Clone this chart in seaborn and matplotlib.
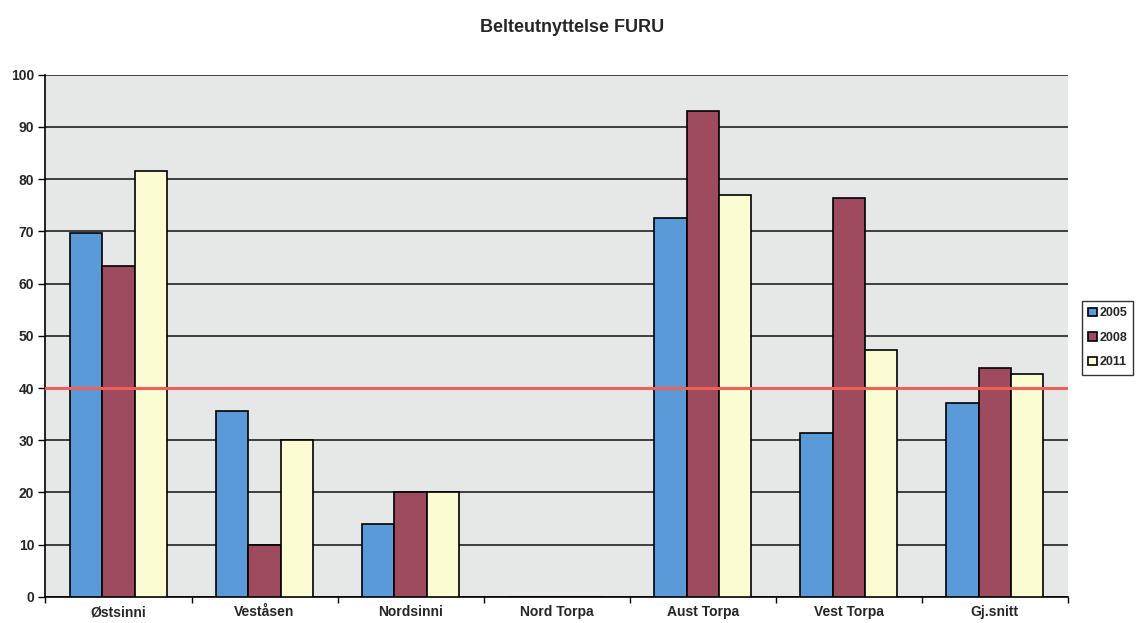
import seaborn as sns
import pandas as pd
import numpy as np
import matplotlib.pyplot as plt

omraader = ["Østsinni", "Veståsen", "Nordsinni", "Nord Torpa", "Aust Torpa", "Vest Torpa", "Gj.snitt"]
aar = ["2005", "2008", "2011"]
v2005 = [69.6, 35.5, 13.9, 0, 72.6, 31.4, 37.2]
v2008 = [63.4, 10.0, 20.0, 0, 93.0, 76.4, 43.8]
v2011 = [81.6, 30.0, 20.0, 0, 77.0, 47.2, 42.6]
maal = 40

df = pd.DataFrame({
    "Område": omraader * 3,
    "År": [a for a in aar for _ in omraader],
    "Verdi": v2005 + v2008 + v2011,
})

sns.set_theme(style="white")
plt.rcParams["font.family"] = ["Liberation Sans", "DejaVu Sans"]
plt.rcParams["font.weight"] = "bold"

farger = ["#5b9ad8", "#9e4b60", "#fbfbd4"]

fig = plt.figure(figsize=(11.37, 6.23), dpi=100)
ax = fig.add_axes([0.04, 0.042, 0.899, 0.838])
ax.set_facecolor("#e6e7e7")

sns.barplot(data=df, x="Område", y="Verdi", hue="År", palette=farger,
            width=0.66, edgecolor="black", linewidth=1.2, saturation=1,
            ax=ax, zorder=3)

ax.set_ylim(0, 100)
ax.set_xlim(-0.5, len(omraader) - 0.5)
ax.set_yticks(np.arange(0, 101, 10))
ax.yaxis.grid(True, color="#222222", linewidth=1.2, zorder=0)
ax.set_axisbelow(True)
ax.axhline(maal, color="#f06058", linewidth=2.2, zorder=4)

ax.set_xlabel("")
ax.set_ylabel("")
ax.tick_params(axis="both", labelsize=10)
ax.tick_params(axis="y", left=True, length=5, width=1, color="black", pad=3)
ax.set_xticks(np.arange(-0.5, len(omraader), 1), minor=True)
ax.tick_params(axis="x", which="minor", bottom=True, length=4, color="black")
ax.tick_params(axis="x", which="major", bottom=False, length=0, pad=6)
for s in ["top", "right"]:
    ax.spines[s].set_visible(False)
ax.spines["left"].set_color("black")
ax.spines["bottom"].set_color("black")
ax.spines["left"].set_linewidth(1.2)
ax.spines["bottom"].set_linewidth(1.2)

leg = ax.legend(title=None, loc="center left", bbox_to_anchor=(1.0137, 0.496),
                fontsize=9, frameon=True, fancybox=False, edgecolor="black",
                handlelength=0.7, handleheight=0.7, handletextpad=0.2,
                borderpad=0.5, labelspacing=1.0, borderaxespad=0)
leg.get_frame().set_linewidth(1)

fig.suptitle("Belteutnyttelse FURU", fontsize=13, fontweight="bold", x=0.503, y=0.97)

plt.savefig("out.png", dpi=100)
